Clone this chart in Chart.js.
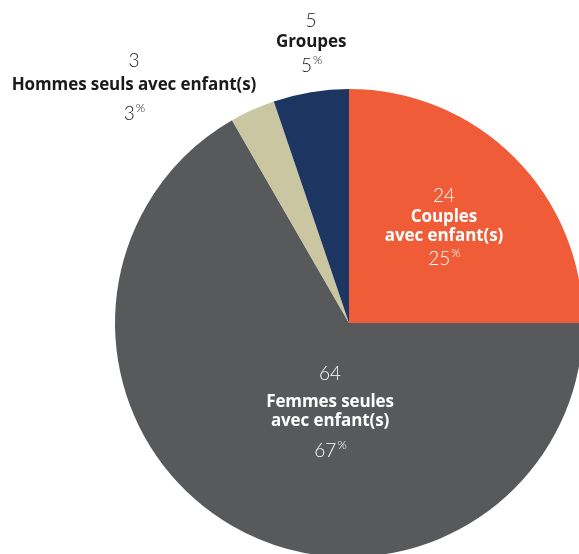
<!DOCTYPE html>
<html lang="fr">
<head>
<meta charset="utf-8">
<script src="https://cdn.jsdelivr.net/npm/chart.js@4/dist/chart.umd.min.js"></script>
<style>
  html, body { margin: 0; padding: 0; background: #fff; overflow: hidden; }
  #wrap { position: absolute; left: 0; top: 0; width: 600px; height: 580px; }
</style>
</head>
<body>
<div id="wrap"><canvas id="graphiqueMenages"></canvas></div>
<script>
// Types de ménages (ordre horaire depuis midi)
const categories = [
  ["Couples", "avec enfant(s)"],
  ["Femmes seules", "avec enfant(s)"],
  ["Hommes seuls avec enfant(s)"],
  ["Groupes"]
];
const effectifs = [24, 64, 3, 5];
const couleurs = ['#F15C38', '#58595B', '#C9C6A1', '#1D3661'];

// Position des étiquettes (fraction du rayon, depuis le centre) et écarts entre lignes
const posEtiquettes = [
  { dx: 0.406, dy: -0.543, gapNum: 21, gapPct: 23, inside: true },
  { dx: -0.081, dy: 0.218, gapNum: 28, gapPct: 30, inside: true },
  { dx: -0.919, dy: -1.12, gapNum: 24, gapPct: 29, inside: false },
  { dx: -0.162, dy: -1.29, gapNum: 21, gapPct: 24, inside: false }
];

const total = effectifs.reduce((a, b) => a + b, 0);
const pourcent = v => Math.round(v / total * 100);

const FONTE_TITRE = "'Open Sans', 'Noto Sans', sans-serif";
const FONTE_CHIFFRE = "'Lato', 'Open Sans', sans-serif";

const pluginEtiquettes = {
  id: 'etiquettes',
  afterDatasetsDraw(chart) {
    const ctx = chart.ctx;
    const arc = chart.getDatasetMeta(0).data[0];
    const cx = arc.x, cy = arc.y, R = arc.outerRadius;

    effectifs.forEach((v, i) => {
      const p = posEtiquettes[i];
      const x = cx + p.dx * R;
      let y = cy + p.dy * R;
      const lignes = categories[i];
      ctx.save();
      ctx.fillStyle = p.inside ? '#ffffff' : '#1a1a1a';
      ctx.textAlign = 'center';
      ctx.textBaseline = 'middle';

      // effectif
      ctx.font = `300 19px ${FONTE_CHIFFRE}`;
      ctx.fillText(String(v), x, y);
      y += p.gapNum;

      // libellé
      ctx.font = `bold 17px ${FONTE_TITRE}`;
      if ('letterSpacing' in ctx) ctx.letterSpacing = '-0.1px';
      lignes.forEach((l, k) => {
        ctx.fillText(l, x, y);
        if (k < lignes.length - 1) y += 19;
      });
      if ('letterSpacing' in ctx) ctx.letterSpacing = '0px';
      y += p.gapPct;

      // pourcentage avec % en exposant
      const txt = String(pourcent(v));
      ctx.font = `300 19px ${FONTE_CHIFFRE}`;
      const w1 = ctx.measureText(txt).width;
      ctx.font = `300 12px ${FONTE_CHIFFRE}`;
      const w2 = ctx.measureText('%').width;
      const x0 = x - (w1 + w2) / 2;
      ctx.textAlign = 'left';
      ctx.font = `300 19px ${FONTE_CHIFFRE}`;
      ctx.fillText(txt, x0, y);
      ctx.font = `300 12px ${FONTE_CHIFFRE}`;
      ctx.fillText('%', x0 + w1 + 1, y - 6);
      ctx.restore();
    });
  }
};

new Chart(document.getElementById('graphiqueMenages'), {
  type: 'pie',
  data: {
    labels: categories.map(c => c.join(' ')),
    datasets: [{
      data: effectifs,
      backgroundColor: couleurs,
      borderWidth: 0
    }]
  },
  options: {
    responsive: true,
    maintainAspectRatio: false,
    animation: false,
    layout: { padding: { left: 115, right: 17, top: 89, bottom: 23 } },
    plugins: {
      legend: { display: false },
      tooltip: { enabled: false }
    }
  },
  plugins: [pluginEtiquettes]
});
</script>
</body>
</html>
